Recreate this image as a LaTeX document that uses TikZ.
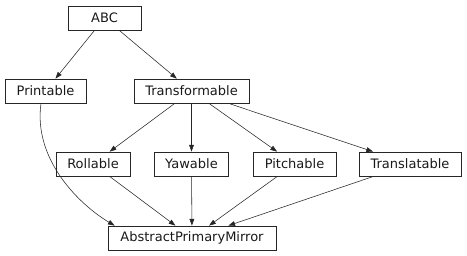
\documentclass[tikz,border=0pt]{standalone}
\usepackage{fontspec}
\setmainfont{DejaVu Sans}
\usetikzlibrary{arrows.meta}
\begin{document}
\begin{tikzpicture}[x=1pt,y=1pt,
  box/.style={draw=black!85, line width=0.7pt, rectangle, inner sep=0pt,
    minimum height=24pt, font=\fontsize{13}{15}\selectfont, text=black!90},
  edge/.style={draw=black!85, line width=0.55pt, -{Triangle[length=6.7pt,width=4.7pt]}}]
\useasboundingbox (0,0) rectangle (467,-256);
\node[box, minimum width=73pt]  (abc)  at (104.5,-18)  {ABC};
\node[box, minimum width=81pt]  (prt)  at (45.5,-91)   {Printable};
\node[box, minimum width=115pt] (trf)  at (191.5,-91)  {Transformable};
\node[box, minimum width=74pt]  (rol)  at (93,-164)    {Rollable};
\node[box, minimum width=74pt]  (yaw)  at (191.5,-164) {Yawable};
\node[box, minimum width=83pt]  (pit)  at (294.5,-164) {Pitchable};
\node[box, minimum width=102pt] (trl)  at (410,-164)   {Translatable};
\node[box, minimum width=168pt] (apm)  at (192,-238)   {AbstractPrimaryMirror};
\draw[edge] (abc) -- (prt);
\draw[edge] (abc) -- (trf);
\draw[edge] (trf) -- (rol);
\draw[edge] (trf) -- (yaw);
\draw[edge] (trf) -- (pit);
\draw[edge] (trf) -- (trl);
\draw[edge] (rol) -- (apm);
\draw[edge] (yaw) -- (apm);
\draw[edge] (pit) -- (apm);
\draw[edge] (trl) -- (apm);
\draw[edge] ([xshift=-4.5pt]prt.south) .. controls (33,-160) and (80,-205) .. ([xshift=7pt]apm.north west);
\end{tikzpicture}
\end{document}
